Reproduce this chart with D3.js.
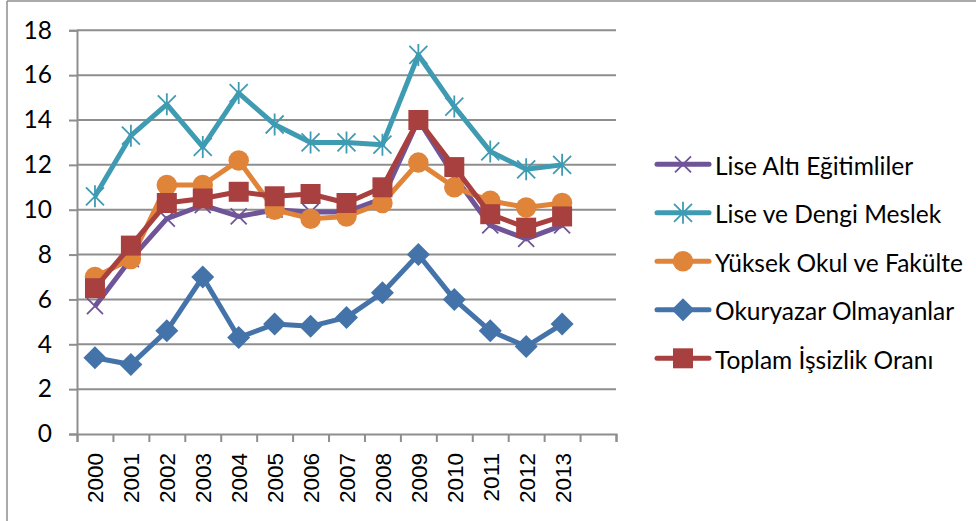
<!DOCTYPE html>
<html>
<head>
<meta charset="utf-8">
<script src="https://cdn.jsdelivr.net/npm/d3@7"></script>
<style>
  html, body { margin: 0; padding: 0; background: #fff; }
  svg { display: block; }
  text { fill: #000; }
</style>
</head>
<body>
<svg id="chart" width="976" height="521"></svg>
<script>
const years = ['2000','2001','2002','2003','2004','2005','2006','2007','2008','2009','2010','2011','2012','2013']
const slots = years.concat([''])   // the chart keeps one empty slot after 2013

const liseAlti   = [5.7, 7.8, 9.6, 10.2, 9.7, 10.0, 9.9, 9.9, 10.5, 14.0, 11.5, 9.3, 8.7, 9.3]
const liseDengi  = [10.6, 13.3, 14.7, 12.8, 15.2, 13.8, 13.0, 13.0, 12.9, 16.9, 14.6, 12.6, 11.8, 12.0]
const yuksekOkul = [7.0, 7.8, 11.1, 11.1, 12.2, 10.0, 9.6, 9.7, 10.3, 12.1, 11.0, 10.4, 10.1, 10.3]
const okuryazar  = [3.4, 3.1, 4.6, 7.0, 4.3, 4.9, 4.8, 5.2, 6.3, 8.0, 6.0, 4.6, 3.9, 4.9]
const toplam     = [6.5, 8.4, 10.3, 10.5, 10.8, 10.6, 10.7, 10.3, 11.0, 14.0, 11.9, 9.8, 9.2, 9.7]

const seriesNames = ['Lise Altı Eğitimliler', 'Lise ve Dengi Meslek', 'Yüksek Okul ve Fakülte', 'Okuryazar Olmayanlar', 'Toplam İşsizlik Oranı']
const yTicks = [0, 2, 4, 6, 8, 10, 12, 14, 16, 18]

const series = [
  { name: seriesNames[0], values: liseAlti,   color: '#6f5598', marker: 'x' },
  { name: seriesNames[1], values: liseDengi,  color: '#3f9bb2', marker: 'star' },
  { name: seriesNames[2], values: yuksekOkul, color: '#e0843a', marker: 'circle' },
  { name: seriesNames[3], values: okuryazar,  color: '#4473aa', marker: 'diamond' },
  { name: seriesNames[4], values: toplam,     color: '#a8403f', marker: 'square' }
]

const svg = d3.select('#chart')
const plotLeft = 77, plotRight = 616, plotTop = 30.3, plotBottom = 434
const grey = '#8e8e8e'

// outer frame (only top and left edges show)
svg.append('line').attr('x1', 7).attr('x2', 976).attr('y1', 1).attr('y2', 1)
  .attr('stroke', grey).attr('stroke-width', 1.5)
svg.append('line').attr('x1', 7).attr('x2', 7).attr('y1', 1).attr('y2', 521)
  .attr('stroke', grey).attr('stroke-width', 1.5)

const x = d3.scaleBand().domain(slots).range([plotLeft, plotRight]).padding(0)
const xEdge = d3.scaleLinear().domain([0, slots.length]).range([plotLeft, plotRight])
const y = d3.scaleLinear().domain([0, 18]).range([plotBottom, plotTop])

// gridlines
svg.append('g')
  .selectAll('line')
  .data(yTicks.filter(d => d > 0))
  .join('line')
  .attr('x1', plotLeft).attr('x2', plotRight)
  .attr('y1', d => y(d)).attr('y2', d => y(d))
  .attr('stroke', grey).attr('stroke-width', 2)

// y axis
const yAxis = svg.append('g')
  .attr('transform', `translate(${plotLeft},0)`)
  .call(d3.axisLeft(y).tickValues(yTicks).tickSize(8).tickPadding(17))
yAxis.select('.domain').attr('stroke', grey).attr('stroke-width', 2)
yAxis.selectAll('.tick line').attr('stroke', grey).attr('stroke-width', 2)
yAxis.selectAll('.tick text')
  .attr('font-family', 'Lato, sans-serif').attr('font-size', 24.5).attr('fill', '#000')

// x axis: ticks on slot edges, labels on slot centres
const xAxis = svg.append('g')
  .attr('transform', `translate(0,${plotBottom})`)
  .call(d3.axisBottom(xEdge).tickValues(d3.range(slots.length + 1)).tickSize(8).tickFormat(''))
xAxis.select('.domain').attr('stroke', grey).attr('stroke-width', 2)
xAxis.selectAll('.tick line').attr('stroke', grey).attr('stroke-width', 2)

svg.append('g')
  .selectAll('text')
  .data(years)
  .join('text')
  .attr('transform', d => `translate(${x(d) + x.bandwidth() / 2 + 1},${plotBottom + 19}) rotate(-90)`)
  .attr('text-anchor', 'end')
  .attr('dominant-baseline', 'central')
  .attr('font-family', '"Liberation Sans", Arial, sans-serif')
  .attr('font-size', 22.5)
  .text(d => d)

// marker shapes
function markerPath(type) {
  if (type === 'x') return 'M-8,-8L8,8M-8,8L8,-8'
  if (type === 'star') return 'M-9,-9L9,9M-9,9L9,-9M0,-11L0,11'
  if (type === 'circle') return d3.symbol(d3.symbolCircle, 330)()
  if (type === 'square') return d3.symbol(d3.symbolSquare, 400)()
  if (type === 'diamond') return 'M0,-11.5L11.5,0L0,11.5L-11.5,0Z'
}
function strokeOnly(type) { return type === 'x' || type === 'star' }

const line = d3.line()
  .x((d, i) => x(years[i]) + x.bandwidth() / 2)
  .y(d => y(d))

series.forEach(s => {
  const g = svg.append('g')
  g.append('path')
    .attr('d', line(s.values))
    .attr('fill', 'none')
    .attr('stroke', s.color)
    .attr('stroke-width', 5)
    .attr('stroke-linejoin', 'round')
  g.selectAll('path.m')
    .data(s.values)
    .join('path')
    .attr('class', 'm')
    .attr('transform', (d, i) => `translate(${x(years[i]) + x.bandwidth() / 2},${y(d)})`)
    .attr('d', markerPath(s.marker))
    .attr('fill', strokeOnly(s.marker) ? 'none' : s.color)
    .attr('stroke', s.color)
    .attr('stroke-width', strokeOnly(s.marker) ? 1.8 : 0)
})

// legend
const legend = svg.append('g')
series.forEach((s, i) => {
  const ly = 164.3 + i * 48.5
  legend.append('line')
    .attr('x1', 657).attr('x2', 709).attr('y1', ly).attr('y2', ly)
    .attr('stroke', s.color).attr('stroke-width', 5).attr('stroke-linecap', 'round')
  legend.append('path')
    .attr('transform', `translate(683,${ly})`)
    .attr('d', markerPath(s.marker))
    .attr('fill', strokeOnly(s.marker) ? 'none' : s.color)
    .attr('stroke', s.color)
    .attr('stroke-width', strokeOnly(s.marker) ? 1.8 : 0)
  legend.append('text')
    .attr('x', 715).attr('y', ly + 1)
    .attr('dominant-baseline', 'central')
    .attr('font-family', 'Lato, sans-serif')
    .attr('font-size', 24.5)
    .text(s.name)
})
</script>
</body>
</html>
